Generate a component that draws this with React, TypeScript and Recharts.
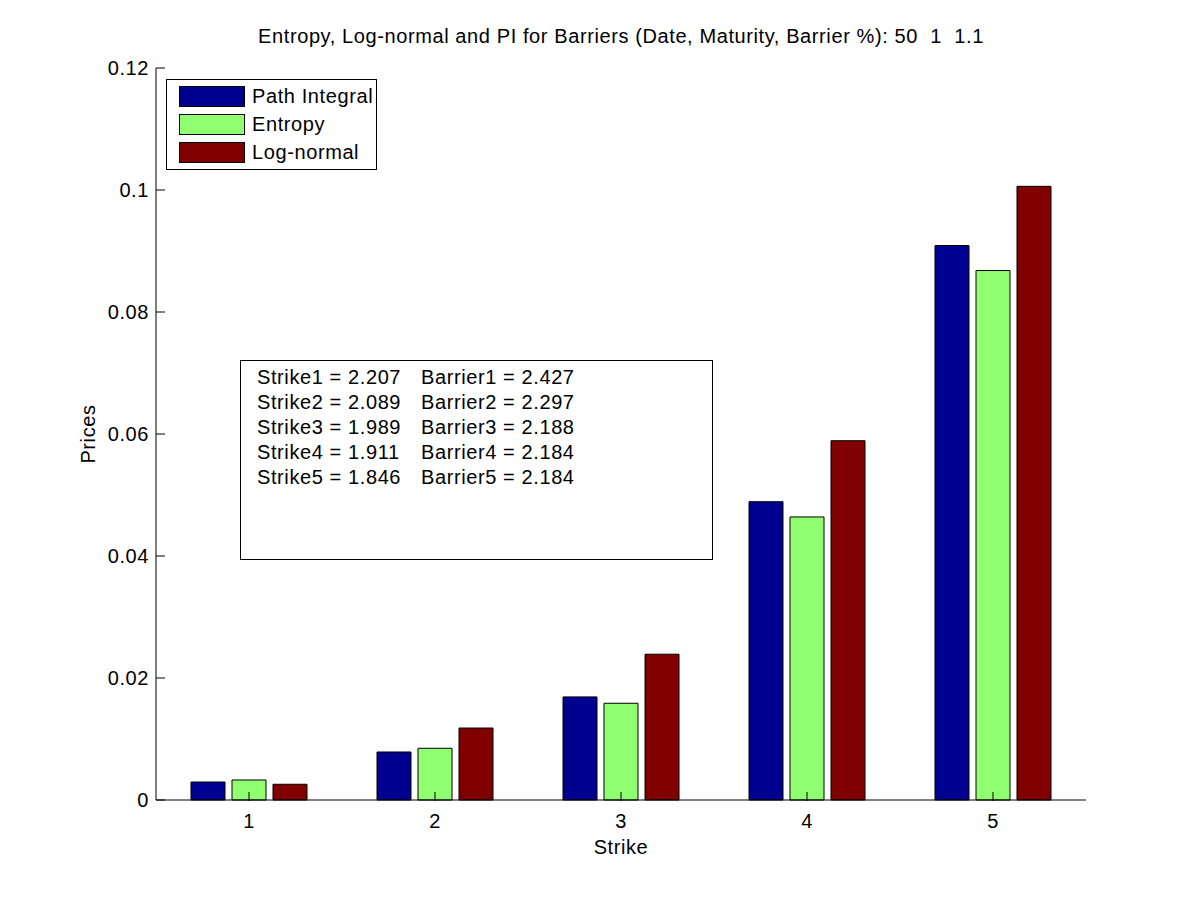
import { Bar, BarChart, Legend, XAxis, YAxis } from "recharts";

const strikes = ["1", "2", "3", "4", "5"];
const pathIntegral = [0.00295, 0.00787, 0.0169, 0.0489, 0.0909];
const entropy = [0.00328, 0.00848, 0.01586, 0.0464, 0.0868];
const logNormal = [0.00258, 0.0118, 0.0239, 0.0589, 0.1006];
const yTicks = [0, 0.02, 0.04, 0.06, 0.08, 0.1, 0.12];
const annotations = [
  ["Strike1 = 2.207", "Barrier1 = 2.427"],
  ["Strike2 = 2.089", "Barrier2 = 2.297"],
  ["Strike3 = 1.989", "Barrier3 = 2.188"],
  ["Strike4 = 1.911", "Barrier4 = 2.184"],
  ["Strike5 = 1.846", "Barrier5 = 2.184"],
];

const SERIES = [
  { key: "pi", name: "Path Integral", color: "#000090" },
  { key: "ent", name: "Entropy", color: "#90ff70" },
  { key: "ln", name: "Log-normal", color: "#800000" },
];

const data = strikes.map((s, i) => ({
  strike: s,
  pi: pathIntegral[i],
  ent: entropy[i],
  ln: logNormal[i],
}));

const FONT = '"Liberation Sans", Arial, Helvetica, sans-serif';
const FS = 20;
const LS = 0.6; // MATLAB's Helvetica renders a bit wider than Arial
const TICK = 9; // inward tick length, like MATLAB

// left y axis: label + inward tick at the axis line
function LeftTick(props: any) {
  const { x, y, payload } = props;
  const ax = x + 7;
  return (
    <g>
      <line x1={ax} x2={ax + TICK} y1={y} y2={y} stroke="#000" />
      <text
        x={x}
        y={y}
        dy={7}
        textAnchor="end"
        fill="#000"
        fontSize={FS}
        fontFamily={FONT}
        style={{ letterSpacing: LS }}
      >
        {String(Math.round(payload.value * 100) / 100)}
      </text>
    </g>
  );
}

function RightTick(props: any) {
  const { x, y } = props;
  return <line x1={x} x2={x - TICK} y1={y} y2={y} stroke="#000" />;
}

function BottomTick(props: any) {
  const { x, y, payload } = props;
  return (
    <g>
      <line x1={x} x2={x} y1={y - 7} y2={y - 7 - TICK} stroke="#000" />
      <text
        x={x}
        y={y}
        dy={20}
        textAnchor="middle"
        fill="#000"
        fontSize={FS}
        fontFamily={FONT}
        style={{ letterSpacing: LS }}
      >
        {payload.value}
      </text>
    </g>
  );
}

function TopTick(props: any) {
  const { x, y } = props;
  return <line x1={x} x2={x} y1={y} y2={y + TICK} stroke="#000" />;
}

function LegendBox() {
  return (
    <div
      style={{
        position: "relative",
        width: 209,
        height: 89,
        border: "1px solid #000",
        background: "#fff",
        fontFamily: FONT,
        fontSize: FS,
        letterSpacing: LS,
        color: "#000",
        boxSizing: "content-box",
      }}
    >
      {SERIES.map((s, i) => (
        <div
          key={s.key}
          style={{ position: "absolute", left: 12, top: 6 + i * 28, display: "flex", alignItems: "center" }}
        >
          <span
            style={{
              display: "inline-block",
              width: 64,
              height: 19,
              background: s.color,
              border: "1px solid #000",
              marginRight: 7,
            }}
          />
          <span style={{ lineHeight: "21px", whiteSpace: "nowrap" }}>{s.name}</span>
        </div>
      ))}
    </div>
  );
}

export default function App() {
  return (
    <div style={{ position: "relative", width: 1200, height: 900, background: "#fff", fontFamily: FONT }}>
      <style>{"body{margin:0}"}</style>
      <div
        style={{
          position: "absolute",
          top: 25,
          left: 106,
          width: 1030,
          textAlign: "center",
          fontSize: FS,
          letterSpacing: LS,
          whiteSpace: "pre",
        }}
      >
        {"Entropy, Log-normal and PI for Barriers (Date, Maturity, Barrier %): 50  1  1.1"}
      </div>
      <BarChart
        width={1200}
        height={900}
        data={data}
        margin={{ top: 68, right: 114, bottom: 60, left: 0 }}
        barSize={34}
        barGap={7}
      >
        <XAxis
          xAxisId="b"
          dataKey="strike"
          height={40}
          axisLine={{ stroke: "#000" }}
          tickLine={false}
          tick={<BottomTick />}
          interval={0}
          label={{
            value: "Strike",
            position: "insideBottom",
            offset: -14,
            fill: "#000",
            fontSize: FS,
            fontFamily: FONT,
            style: { letterSpacing: LS },
          }}
        />
        <XAxis
          xAxisId="t"
          dataKey="strike"
          orientation="top"
          height={0}
          axisLine={{ stroke: "#000" }}
          tickLine={false}
          tick={<TopTick />}
          interval={0}
        />
        <YAxis
          yAxisId="l"
          width={156}
          domain={[0, 0.12]}
          ticks={yTicks}
          axisLine={{ stroke: "#000" }}
          tickLine={false}
          tickSize={0}
          tickMargin={7}
          tick={<LeftTick />}
          interval={0}
          label={{
            value: "Prices",
            angle: -90,
            position: "insideLeft",
            offset: 88,
            style: { textAnchor: "middle", letterSpacing: LS },
            fill: "#000",
            fontSize: FS,
            fontFamily: FONT,
          }}
        />
        <YAxis
          yAxisId="r"
          orientation="right"
          width={0}
          domain={[0, 0.12]}
          ticks={yTicks}
          axisLine={{ stroke: "#000" }}
          tickLine={false}
          tickSize={0}
          tickMargin={0}
          tick={<RightTick />}
          interval={0}
        />
        <Legend
          layout="vertical"
          align="center"
          verticalAlign="middle"
          wrapperStyle={{ position: "absolute", left: 166, top: 79, width: 211, height: 91 }}
          content={() => <LegendBox />}
        />
        {SERIES.map((s) => (
          <Bar
            key={s.key}
            xAxisId="b"
            yAxisId="l"
            dataKey={s.key}
            name={s.name}
            fill={s.color}
            stroke="#000"
            strokeWidth={1}
            isAnimationActive={false}
          />
        ))}
      </BarChart>
      <div
        style={{
          position: "absolute",
          left: 240,
          top: 360,
          width: 471,
          height: 194,
          border: "1px solid #000",
          background: "#fff",
          fontSize: FS,
          letterSpacing: LS,
          lineHeight: "25px",
          paddingTop: 4,
          boxSizing: "content-box",
        }}
      >
        {annotations.map(([a, b], i) => (
          <div key={i} style={{ position: "relative", height: 25, whiteSpace: "pre" }}>
            <span style={{ position: "absolute", left: 16 }}>{a}</span>
            <span style={{ position: "absolute", left: 180 }}>{b}</span>
          </div>
        ))}
      </div>
    </div>
  );
}
